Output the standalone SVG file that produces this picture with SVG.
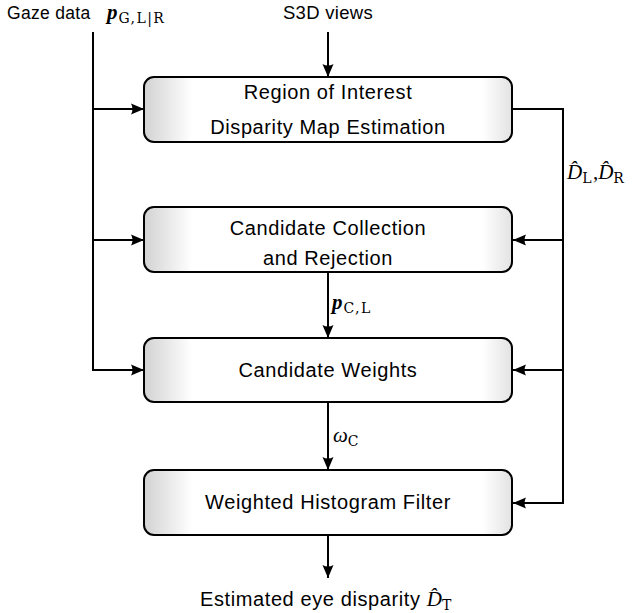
<svg xmlns="http://www.w3.org/2000/svg" width="643" height="613" viewBox="0 0 643 613">
<style>
.box{stroke:#000;stroke-width:2;fill:url(#g)}
.t{font-family:"Liberation Sans",Arial,sans-serif;font-size:20px;letter-spacing:0.6px;fill:#000}
.o{font-family:"Liberation Sans",Arial,sans-serif;font-size:18.5px;letter-spacing:0.3px;fill:#000}
.mb{font-family:"Liberation Serif","Times New Roman",serif;font-size:21px;font-style:italic;font-weight:bold;letter-spacing:0}
.mi{font-family:"Liberation Serif","Times New Roman",serif;font-size:21px;font-style:italic;letter-spacing:0}
.mr{font-family:"Liberation Serif","Times New Roman",serif;font-size:21px;letter-spacing:0}
.s{font-family:"DejaVu Serif",serif;font-size:14px;letter-spacing:1.4px;font-style:normal;font-weight:normal}
.c line,.c polyline{stroke:#000;stroke-width:2;fill:none}
</style>
<defs>
<linearGradient id="g" x1="0" y1="0" x2="1" y2="0">
<stop offset="0" stop-color="#d2d2d2"/>
<stop offset="0.13" stop-color="#ffffff"/>
<stop offset="0.92" stop-color="#ffffff"/>
<stop offset="1" stop-color="#e2e2e2"/>
</linearGradient>
<marker id="a" markerUnits="userSpaceOnUse" markerWidth="14" markerHeight="12" refX="13" refY="6" orient="auto">
<path d="M0,0.5 L13,6 L0,11.5 Q3,6 0,0.5 Z" fill="#000"/>
</marker>
</defs>
<g class="c" id="connectors">
<line x1="93" y1="32" x2="93" y2="371"/>
<line x1="92" y1="109" x2="144" y2="109" marker-end="url(#a)"/>
<line x1="92" y1="240" x2="144" y2="240" marker-end="url(#a)"/>
<polyline points="93,370 144,370" marker-end="url(#a)"/>
<line x1="328" y1="32" x2="328" y2="77" marker-end="url(#a)"/>
<polyline points="513,109 563,109 563,503"/>
<line x1="564" y1="240" x2="513" y2="240" marker-end="url(#a)"/>
<line x1="564" y1="370" x2="513" y2="370" marker-end="url(#a)"/>
<line x1="564" y1="503" x2="513" y2="503" marker-end="url(#a)"/>
<line x1="328" y1="272" x2="328" y2="338" marker-end="url(#a)"/>
<line x1="328" y1="402" x2="328" y2="470" marker-end="url(#a)"/>
<line x1="328" y1="535" x2="328" y2="578" marker-end="url(#a)"/>
</g>
<g id="roi">
<rect class="box" x="144" y="77" width="368" height="65" rx="10"/>
<text class="t" x="328" y="99" text-anchor="middle">Region of Interest</text>
<text class="t" x="328" y="134" text-anchor="middle">Disparity Map Estimation</text>
</g>
<g id="ccr">
<rect class="box" x="144" y="207" width="368" height="65" rx="10"/>
<text class="t" x="328" y="235" text-anchor="middle">Candidate Collection</text>
<text class="t" x="328" y="265" text-anchor="middle">and Rejection</text>
</g>
<g id="cw">
<rect class="box" x="144" y="338" width="368" height="64" rx="10"/>
<text class="t" x="328" y="377" text-anchor="middle">Candidate Weights</text>
</g>
<g id="whf">
<rect class="box" x="144" y="470" width="368" height="65" rx="10"/>
<text class="t" x="328" y="509" text-anchor="middle">Weighted Histogram Filter</text>
</g>
<g id="labels">
<text class="o" x="7" y="19" style="font-size:17.5px">Gaze data</text>
<text x="107" y="19"><tspan class="mb">p</tspan><tspan class="s" dx="1" dy="4">G,L|R</tspan></text>
<text class="o" x="328" y="19" text-anchor="middle">S3D views</text>
<text x="567" y="179"><tspan class="mi">D&#x302;</tspan><tspan class="s" dy="4">L</tspan><tspan class="mr" dy="-4">,</tspan><tspan class="mi">D&#x302;</tspan><tspan class="s" dy="4">R</tspan></text>
<text x="332" y="309"><tspan class="mb">p</tspan><tspan class="s" dx="1" dy="4">C,L</tspan></text>
<text x="333" y="442"><tspan class="mi">ω</tspan><tspan class="s" dy="4">C</tspan></text>
<text class="t" x="200" y="606">Estimated eye disparity <tspan class="mi">D&#x302;</tspan><tspan class="s" dy="4">T</tspan></text>
</g>
</svg>
